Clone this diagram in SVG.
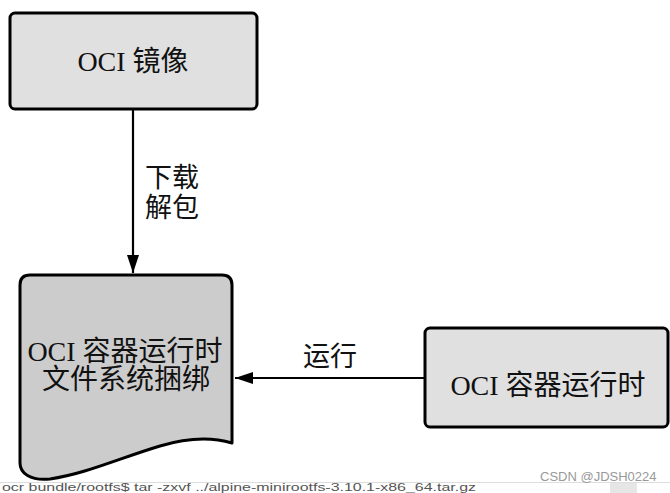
<svg xmlns="http://www.w3.org/2000/svg" width="670" height="493" viewBox="0 0 670 493">
<style>
.box{fill:#e0e0e0;stroke:#000;stroke-width:3}
.doc{fill:#cccccc;stroke:#000;stroke-width:3;stroke-linejoin:round}
.t{font-family:"Liberation Serif","Noto Sans CJK SC",serif;font-size:28px;fill:#111;text-anchor:middle}
.lbl{font-family:"Liberation Serif","Noto Sans CJK SC",serif;font-size:27px;fill:#111}
.edge{stroke:#000;stroke-width:2.2;fill:none}
</style>
<defs>
<marker id="arr" viewBox="0 0 18 12" refX="18" refY="6" markerWidth="18" markerHeight="12" markerUnits="userSpaceOnUse" orient="auto">
<path d="M0,0 L18,6 L0,12 Z" fill="#000"/>
</marker>
</defs>
<rect width="670" height="493" fill="#fff"/>
<g id="connectors">
<line class="edge" x1="133" y1="109" x2="133" y2="273" marker-end="url(#arr)"/>
<text class="lbl" x="145" y="187">下载</text>
<text class="lbl" x="145" y="217">解包</text>
<line class="edge" x1="425" y1="378" x2="235" y2="378" marker-end="url(#arr)"/>
<text class="lbl" x="303" y="366">运行</text>
</g>
<g id="oci-image">
<rect class="box" x="10" y="13" width="247" height="96" rx="5"/>
<text class="t" x="133" y="71">OCI 镜像</text>
</g>
<g id="bundle">
<path class="doc" d="M20,285 Q20,275 30,275 L222,275 Q232,275 232,285 L232,443 C215,438 190,437 160,446 C120,458 85,474 50,479 C30,481 20,473 20,463 Z"/>
<text class="t" x="125" y="361">OCI 容器运行时</text>
<text class="t" x="126" y="389">文件系统捆绑</text>
</g>
<g id="runtime">
<rect class="box" x="425" y="328" width="243" height="99" rx="5"/>
<text class="t" x="548" y="395">OCI 容器运行时</text>
</g>
<line x1="0" y1="482.5" x2="670" y2="482.5" stroke="#dddddd" stroke-width="1"/>
<rect x="610" y="483" width="27" height="10" fill="#e6e6e6"/>
<text x="2" y="491" font-family="Liberation Sans, sans-serif" font-size="10" fill="#555" textLength="474" lengthAdjust="spacingAndGlyphs">ocr bundle/rootfs$ tar -zxvf ../alpine-minirootfs-3.10.1-x86_64.tar.gz</text>
<text x="540" y="481" font-family="Liberation Sans, sans-serif" font-size="13" fill="#999">CSDN @JDSH0224</text>
</svg>
